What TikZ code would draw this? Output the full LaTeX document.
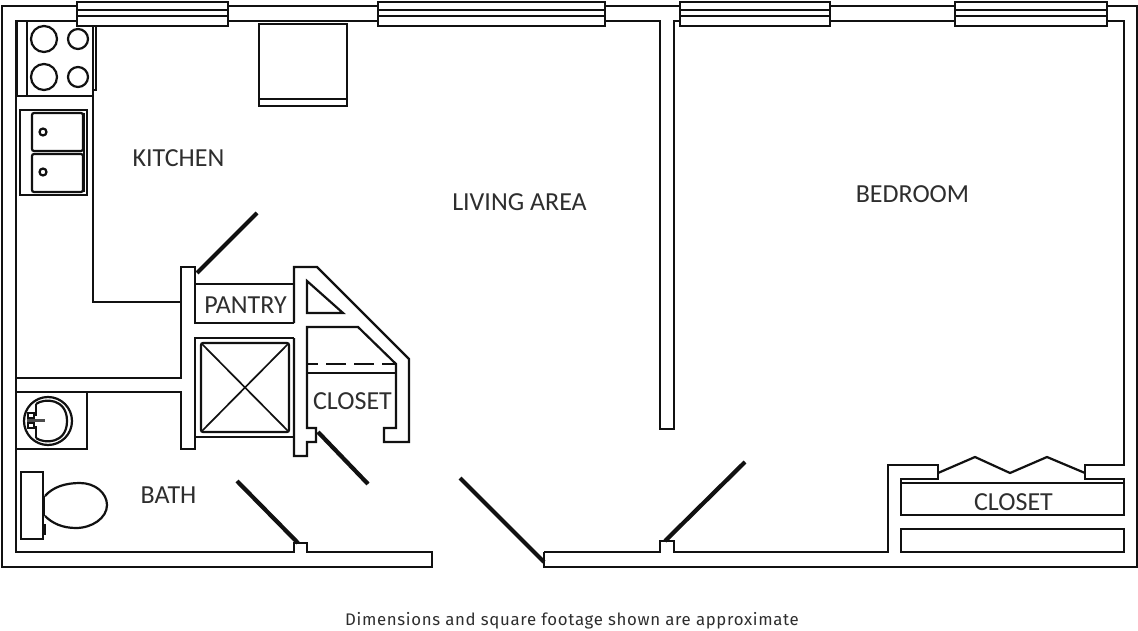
\documentclass[tikz,border=0pt]{standalone}
\usepackage{fontspec}
\setmainfont{Carlito}
\newfontfamily\notefont[LetterSpace=4]{Fira Sans}
\usepackage{xcolor}
\definecolor{inkline}{HTML}{111111}
\definecolor{inktext}{HTML}{2E2E2E}
\tikzset{
	wall/.style={draw=inkline, line width=2.2pt, line join=miter},
	thin wall/.style={draw=inkline, line width=1.7pt},
	door/.style={draw=inkline, line width=4.2pt},
	room/.style={text=inktext, font=\fontsize{26}{28}\selectfont, inner sep=0pt},
	note/.style={text=inktext, font=\notefont\fontsize{16.8}{18}\selectfont, inner sep=0pt}
}
\begin{document}
\begin{tikzpicture}[x=1pt, y=-1pt]
		\useasboundingbox (0,0) rectangle (1138,631);
		\fill [white] (0,0) rectangle (1138,631);
		\draw [wall] (77,6) -- (2,6) -- (2,567) -- (432,567) -- (432,552) -- (307,552) -- (307,543)
			-- (294,543) -- (294,552) -- (16,552) -- (16,21) -- (77,21);
		\draw [wall] (544,552) -- (544,567) -- (1137,567) -- (1137,6) -- (1107,6);
		\draw [wall] (544,552) -- (660,552) -- (660,541) -- (674,541) -- (674,552) -- (888,552)
			-- (888,465) -- (938,465) -- (938,479) -- (901,479) -- (901,515) -- (1124,515) -- (1124,483) -- (901,483);
		\draw [wall] (1107,21) -- (1124,21) -- (1124,465) -- (1085,465) -- (1085,479) -- (1124,479) -- (1124,483);
		\draw [wall] (901,529) rectangle (1124,552);
		\draw [wall] (938,473) -- (975,457) -- (1010,473) -- (1047,457) -- (1085,473);
		\draw [wall] (228,6) -- (378,6) (228,21) -- (378,21);
		\draw [wall] (605,6) -- (680,6) (605,21) -- (660,21) -- (660,429) -- (674,429) -- (674,21) -- (680,21);
		\draw [wall] (830,6) -- (955,6) (830,21) -- (955,21);
		\foreach \winleft/\winright in {77/228, 378/605, 680/830, 955/1107} {
			\draw [wall] (\winleft,2) rectangle (\winright,26);
			\draw [wall] (\winleft,10) -- (\winright,10) (\winleft,16) -- (\winright,16);
		}

		\draw [wall] (93,26) -- (93,302) -- (181,302);
		\draw [wall] (16,96) -- (93,96);
		\draw [wall] (16,378) -- (181,378) -- (181,267) -- (195,267) -- (195,323) -- (294,323);
		\draw [wall] (294,338) -- (195,338) -- (195,449) -- (181,449) -- (181,392) -- (16,392);
		\draw [wall] (195,284) -- (294,284);
		\draw [wall] (195,437) -- (294,437);
		\draw [wall] (294,323) -- (294,267) -- (317,267) -- (409,359) -- (409,442) -- (384,442) -- (384,428) -- (396,428)
			-- (396,364) -- (358,327) -- (307,327) -- (307,428) -- (316,428) -- (316,442) -- (307,442) -- (307,456) -- (294,456) -- (294,338);
		\draw [wall] (307,281) -- (343,313) -- (307,313) -- cycle;
		\draw [wall] (307,373) -- (396,373);
		\draw [wall, dash pattern=on 20pt off 8pt, dash phase=9pt] (307,364) -- (396,364);
		\draw [wall, rounded corners=2pt] (201,343) rectangle (289,432);
		\draw [thin wall] (202,344) -- (288,431) (288,344) -- (202,431);

		\draw [door] (197,273) -- (257,213);
		\draw [door] (318,432) -- (368,484);
		\draw [door] (237,481) -- (298,543);
		\draw [door] (460,478) -- (544,562);
		\draw [door] (665,541) -- (745,462);

		\draw [wall] (27,21) -- (27,96);
		\draw [door, line width=2.6pt] (17,21) -- (17,96);
		\draw [thin wall] (93,26) -- (96,26) -- (96,90) -- (93,90);
		\foreach \burnery in {39,77} {
			\draw [wall] (44,\burnery) circle (13);
			\draw [wall] (78,\burnery) circle (10);
		}
		\draw [wall] (20,110) rectangle (87,195);
		\draw [thin wall] (84,113) -- (84,192);
		\foreach \basintop/\basinend/\draincy in {113/151/132, 154/192/172} {
			\draw [wall, rounded corners=2pt] (32,\basintop) rectangle (83,\basinend);
			\draw [wall] (43,\draincy) circle (3.5);
		}
		\draw [wall] (259,24) rectangle (347,106);
		\draw [wall] (259,99) -- (347,99);

		\draw [wall] (16,449) -- (87,449) -- (87,392);
		\draw [wall] (48,421) circle (24);
		\draw [wall] (36,404) .. controls (44,398) and (67,398) .. (67,421) .. controls (67,444) and (44,444) .. (36,438);
		\draw [wall] (36,404) -- (36,416) (36,426) -- (36,438);
		\draw [door, line width=3.4pt, draw=inkline!75] (27,420.5) -- (45,420.5);
		\draw [thin wall] (28,413) rectangle (34,418) (28,423) rectangle (34,428);
		\draw [wall] (21,472) rectangle (43,539);
		\draw [wall] (45,496) .. controls (53,487) and (65,483) .. (80,483) .. controls (95,483) and (107,493) .. (107,505)
			.. controls (107,518) and (92,528) .. (76,528) .. controls (62,528) and (52,523) .. (45,516);
		\draw [door, line width=2.8pt] (44,496) -- (44,516);
		\draw [door, line width=2.8pt] (45,524) -- (45,535);

		\node [room] (kitchen) at (178.5,158) {KITCHEN};
		\node [room] (living) at (519.5,202) {LIVING AREA};
		\node [room] (bedroom) at (912.5,194) {BEDROOM};
		\node [room] (pantry) at (245.5,305) {PANTRY};
		\node [room] (closetbath) at (352.5,401) {CLOSET};
		\node [room] (closetbed) at (1013.5,502) {CLOSET};
		\node [room] (bath) at (168.5,495) {BATH};
		\node [note] (footnote) at (572,620.5) {Dimensions and square footage shown are approximate};
	\end{tikzpicture}
\end{document}
